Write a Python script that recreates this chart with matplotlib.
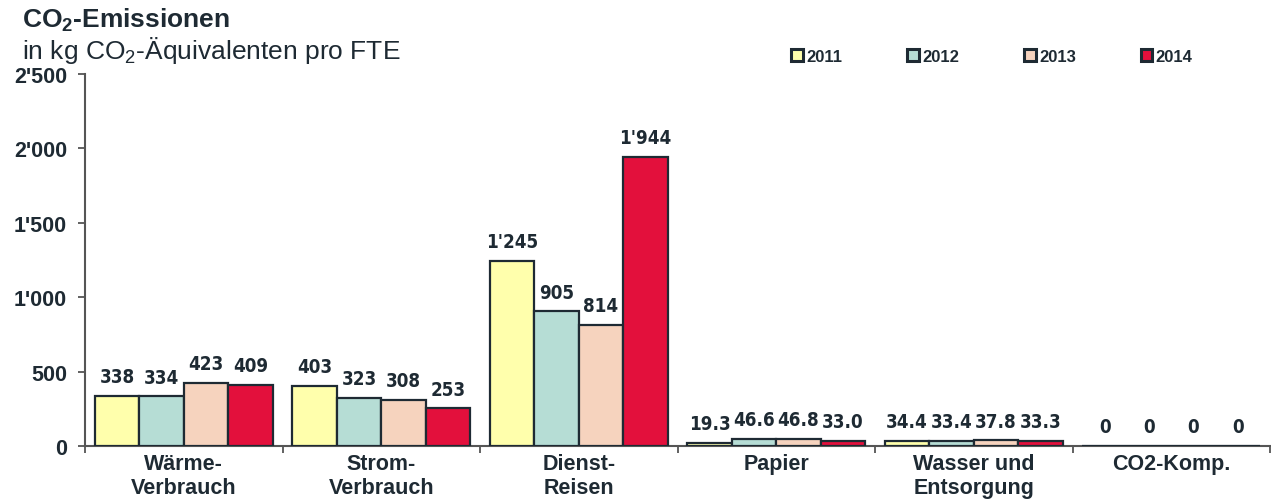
import matplotlib
matplotlib.use("Agg")
import matplotlib.pyplot as plt
from matplotlib import font_manager as fm
from matplotlib.font_manager import FontProperties
from matplotlib.ticker import FuncFormatter, FixedLocator
import numpy as np

categories = ["Wärme-\nVerbrauch", "Strom-\nVerbrauch", "Dienst-\nReisen",
              "Papier", "Wasser und\nEntsorgung", "CO2-Komp."]
years = ["2011", "2012", "2013", "2014"]
v2011 = [338, 403, 1245, 19.3, 34.4, 0]
v2012 = [334, 323, 905, 46.6, 33.4, 0]
v2013 = [423, 308, 814, 46.8, 37.8, 0]
v2014 = [409, 253, 1944, 33.0, 33.3, 0]
labels2011 = ["338", "403", "1'245", "19.3", "34.4", "0"]
labels2012 = ["334", "323", "905", "46.6", "33.4", "0"]
labels2013 = ["423", "308", "814", "46.8", "37.8", "0"]
labels2014 = ["409", "253", "1'944", "33.0", "33.3", "0"]
yticks = [0, 500, 1000, 1500, 2000, 2500]

colors = ["#FFFFAC", "#B6DDD5", "#F6D3BE", "#E3103C"]
edge = "#1E2A33"

plt.rcParams["font.family"] = ["Liberation Sans", "DejaVu Sans"]
plt.rcParams["mathtext.fontset"] = "custom"
plt.rcParams["mathtext.rm"] = "Liberation Sans"
plt.rcParams["mathtext.bf"] = "Liberation Sans:bold"
plt.rcParams["mathtext.it"] = "Liberation Sans:italic"

# pick a narrow bold font for value labels if available
narrow_path = None
pref = []
for f in fm.fontManager.ttflist:
    nm = f.name + " " + f.fname
    if f.weight in ("bold", 700) and ("Narrow" in nm or "Condensed" in nm):
        if "Oblique" in f.fname or "Italic" in f.fname:
            continue
        score = 0 if "Liberation" in nm else (1 if "DejaVu" in nm else 2)
        pref.append((score, f.fname))
if pref:
    pref.sort()
    narrow_path = pref[0][1]
if narrow_path:
    vfont = FontProperties(fname=narrow_path, size=13.5)
else:
    vfont = FontProperties(family="Liberation Sans", weight="bold", size=13)

textc = "#1E2A33"
fig = plt.figure(figsize=(12.71, 5.02), dpi=100)
ax = fig.add_axes([85/1271, 55/502, 1185/1271, 372/502])

series = [v2011, v2012, v2013, v2014]
slabels = [labels2011, labels2012, labels2013, labels2014]
x = np.arange(len(categories))
w = 0.225
for i, (vals, labs) in enumerate(zip(series, slabels)):
    pos = x + (i - 1.5) * w
    bars = ax.bar(pos, vals, width=w, color=colors[i], edgecolor=edge,
                  linewidth=1.6, label=years[i], zorder=3)
    for b, lab in zip(bars, labs):
        ax.annotate(lab, (b.get_x() + b.get_width()/2, b.get_height()),
                    xytext=(0, 7), textcoords="offset points",
                    ha="center", va="bottom", fontproperties=vfont, color=textc)

ax.set_xlim(-0.5, len(categories) - 0.5)
ax.set_ylim(0, 2500)
ax.set_yticks(yticks)
ax.yaxis.set_major_formatter(FuncFormatter(lambda v, p: f"{int(v):,}".replace(",", "'")))
ax.set_xticks(x)
ax.set_xticklabels(categories, fontsize=15.5, fontweight="bold", color=textc, linespacing=1.2)
ax.xaxis.set_minor_locator(FixedLocator(np.arange(-0.5, len(categories), 1.0)))
ax.tick_params(axis="x", which="major", length=0, pad=5)
ax.tick_params(axis="x", which="minor", length=5, width=1.3, color="#555555", direction="out")
ax.tick_params(axis="y", length=5, width=1.3, color="#555555", pad=8, labelsize=15.5)
for t in ax.get_yticklabels():
    t.set_fontweight("bold")
    t.set_color(textc)
for s in ["top", "right"]:
    ax.spines[s].set_visible(False)
for s in ["left", "bottom"]:
    ax.spines[s].set_color("#555555")
    ax.spines[s].set_linewidth(1.5)

leg = ax.legend(ncol=4, loc="center left", bbox_to_anchor=(791/1271, 1 - 57/502),
                bbox_transform=fig.transFigure, frameon=False,
                handlelength=0.7, handleheight=0.7, handletextpad=0.2,
                columnspacing=3.9, borderaxespad=0, borderpad=0,
                prop={"family": "Liberation Sans", "weight": "bold", "size": 12})
for t in leg.get_texts():
    t.set_color(textc)
for h in leg.legend_handles:
    h.set_linewidth(2.2)

fig.text(22/1271, 1 - 28/502, r"CO$_\mathbf{2}$-Emissionen", fontsize=19,
         fontweight="bold", color=textc, va="baseline", ha="left")
fig.text(22/1271, 1 - 59/502, r"in kg CO$_\mathrm{2}$-Äquivalenten pro FTE",
         fontsize=19, color=textc, va="baseline", ha="left")

fig.savefig("out.png", dpi=100)
